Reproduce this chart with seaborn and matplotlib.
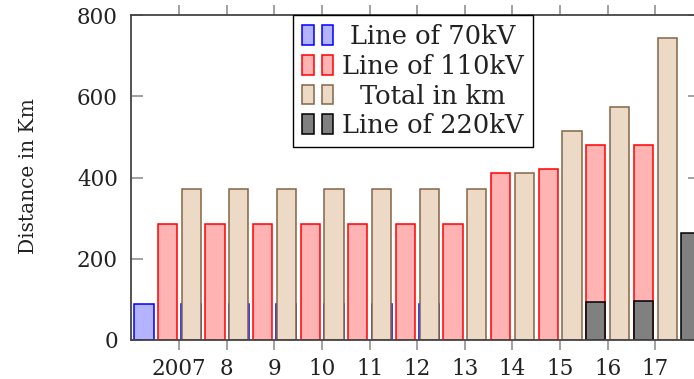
import numpy as np
import pandas as pd
import seaborn as sns
import matplotlib
matplotlib.use("Agg")
import matplotlib.pyplot as plt
from matplotlib.patches import Rectangle
from matplotlib.legend_handler import HandlerTuple

# ---------------- data ----------------
year_labels = ["2007", "8", "9", "10", "11", "12", "13", "14", "15", "16", "17", "18"]
line_70kv = [88, 88, 88, 88, 88, 88, 88, 0, 0, 0, 0, 0]
line_110kv = [285, 285, 285, 285, 285, 285, 285, 410, 422, 480, 480, np.nan]
total_km = [371, 371, 371, 371, 371, 371, 371, 410, 514, 574, 743, np.nan]
line_220kv = [np.nan, np.nan, np.nan, np.nan, np.nan, np.nan, np.nan, np.nan, np.nan, 94, 97, 264]
legend_labels = ["Line of 70kV", "Line of 110kV", "Total in km", "Line of 220kV"]
y_ticks = [0, 200, 400, 600, 800]

# ---------------- style ----------------
sns.set_theme(style="white")
plt.rcParams["font.family"] = ["DejaVu Serif"]

fig = plt.figure(figsize=(6.94, 3.79), dpi=100)
ax = fig.add_axes([131 / 694, 39 / 379, 569 / 694, 325 / 379])

idx = np.arange(len(year_labels))
series = [
    # values, offset, width, face, edge
    (line_70kv, -0.75, 0.42, (0.70, 0.70, 1.00), (0.0, 0.0, 1.0)),
    (line_110kv, -0.25, 0.40, (1.00, 0.70, 0.70), (1.0, 0.0, 0.0)),
    (total_km, 0.25, 0.405, (0.925, 0.85, 0.775), (0.52, 0.40, 0.28)),
    (line_220kv, -0.25, 0.40, (0.50, 0.50, 0.50), (0.0, 0.0, 0.0)),
]

for vals, off, w, fc, ec in series:
    df = pd.DataFrame({"x": idx + off, "y": vals}).dropna()
    sns.barplot(data=df, x="x", y="y", native_scale=True, width=w,
                color=fc, saturation=1, edgecolor=ec, linewidth=1.1,
                errorbar=None, ax=ax)

# only the years whose ticks fall inside the cropped frame
n_visible = 11
ax.set_xlim(-1.015, 10.94)
ax.set_ylim(0, 800)
ax.set_xticks(idx[:n_visible])
ax.set_xticklabels(year_labels[:n_visible])
ax.set_yticks(y_ticks)
ax.set_xlabel("")
ax.set_ylabel("Distance in Km", fontsize=14.5, color="#222222")
ax.yaxis.set_label_coords(-0.163, 0.505)

for s in ax.spines.values():
    s.set_color("#444444")
    s.set_linewidth(1.3)

ax.tick_params(axis="x", which="both", direction="out", length=7.2, width=1.1,
               color="#888888", top=True, bottom=True, labelsize=15.5,
               labelcolor="#222222", pad=5.5)
ax.tick_params(axis="y", which="both", direction="in", length=8.6, width=1.1,
               color="#888888", left=True, right=True, labelsize=15.5,
               labelcolor="#222222", pad=9.4)

# ---------------- legend ----------------
handles = []
for _, _, _, fc, ec in series:
    handles.append((Rectangle((0, 0), 1, 1, fc=fc, ec=ec, lw=1.1),
                    Rectangle((0, 0), 1, 1, fc=fc, ec=ec, lw=1.1)))
leg = ax.legend(handles, legend_labels,
                handler_map={tuple: HandlerTuple(ndivide=None, pad=0.31)},
                loc="upper left", bbox_to_anchor=(0.285, 1.0), borderaxespad=0,
                fontsize=18.5, frameon=True, fancybox=False, edgecolor="black",
                framealpha=1, handlelength=1.2, handleheight=0.8,
                handletextpad=0.35, labelspacing=0.18, borderpad=0.36)
leg.get_frame().set_linewidth(1.0)
for t in leg.get_texts():
    t.set_color("#222222")

# center legend text within its column
fig.canvas.draw()
r = fig.canvas.get_renderer()
texts = leg.get_texts()
ws = [t.get_window_extent(r).width for t in texts]
mw = max(ws)
for t, w in zip(texts, ws):
    t.set_x((mw - w) / 2)

fig.savefig("out.png", dpi=100)
